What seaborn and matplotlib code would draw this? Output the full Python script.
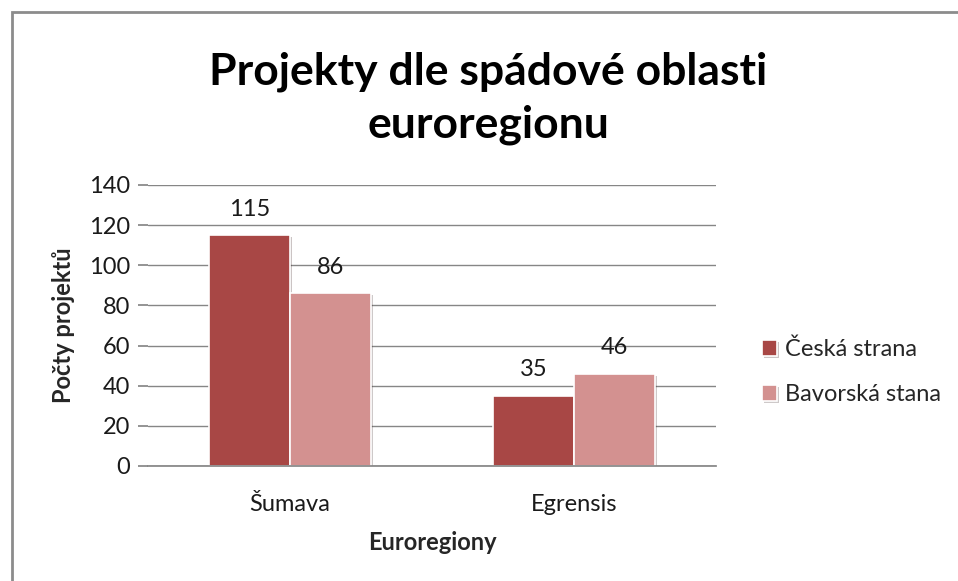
import matplotlib
matplotlib.use("Agg")
import matplotlib.pyplot as plt
import matplotlib.patheffects as pe
from matplotlib.patches import Rectangle
import pandas as pd
import seaborn as sns

regions = ["Šumava", "Egrensis"]
series = ["Česká strana", "Bavorská stana"]
ceska = [115, 35]
bavorska = [86, 46]
colors = ["#A84745", "#D39190"]

df = pd.DataFrame({
    "region": regions * 2,
    "strana": [series[0]] * 2 + [series[1]] * 2,
    "pocet": ceska + bavorska,
})

sns.set_theme(style="white")
plt.rcParams["font.family"] = ["Lato", "DejaVu Sans"]

fig = plt.figure(figsize=(9.58, 5.81), dpi=100)
fig.patches.append(Rectangle((12 / 958, -0.1), 1.2, 1 - 12 / 581 + 0.1,
                             transform=fig.transFigure, fill=False,
                             edgecolor="#8C8C8C", linewidth=2))
ax = fig.add_axes([148 / 958, 1 - 466 / 581, 568 / 958, (466 - 185) / 581])

sns.barplot(data=df, x="region", y="pocet", hue="strana", order=regions,
            hue_order=series, palette=colors, saturation=1, width=0.57, ax=ax,
            edgecolor="white", linewidth=1.2, legend=True)

for bar in ax.patches:
    bar.set_path_effects([pe.SimplePatchShadow(offset=(1.5, -1.5), alpha=0.25),
                          pe.Normal()])

for cont in ax.containers:
    ax.bar_label(cont, labels=[f"{v:g}" for v in cont.datavalues], padding=11,
                 fontsize=17, color="#1a1a1a")

ax.set_ylim(0, 140)
ax.set_xlim(-0.5, 1.5)
ax.set_yticks(range(0, 141, 20))
ax.yaxis.grid(True, color="#868686", linewidth=1)
ax.set_axisbelow(True)
for s in ["top", "right", "left"]:
    ax.spines[s].set_visible(False)
ax.spines["bottom"].set_color("#868686")
ax.tick_params(axis="y", which="both", left=True, length=7, color="#868686",
               labelsize=17, labelcolor="#1a1a1a", pad=6)
ax.tick_params(axis="x", bottom=False, labelsize=17, labelcolor="#1a1a1a", pad=14)
ax.set_xlabel("Euroregiony", fontsize=17, fontweight="bold", labelpad=12)
ax.set_ylabel("Počty projektů", fontsize=17, fontweight="bold", labelpad=10)

leg = ax.legend(loc="center left", bbox_to_anchor=(1.06, 0.335), frameon=False,
                fontsize=17, handlelength=0.65, handleheight=0.65,
                handletextpad=0.35, labelspacing=1.0, borderpad=0)

fig.text(488 / 958, 1 - 72 / 581, "Projekty dle spádové oblasti",
         ha="center", va="center", fontsize=32, fontweight="bold", color="#000000")
fig.text(488 / 958, 1 - 125 / 581, "euroregionu",
         ha="center", va="center", fontsize=32, fontweight="bold", color="#000000")

fig.savefig("out.png", dpi=100)
